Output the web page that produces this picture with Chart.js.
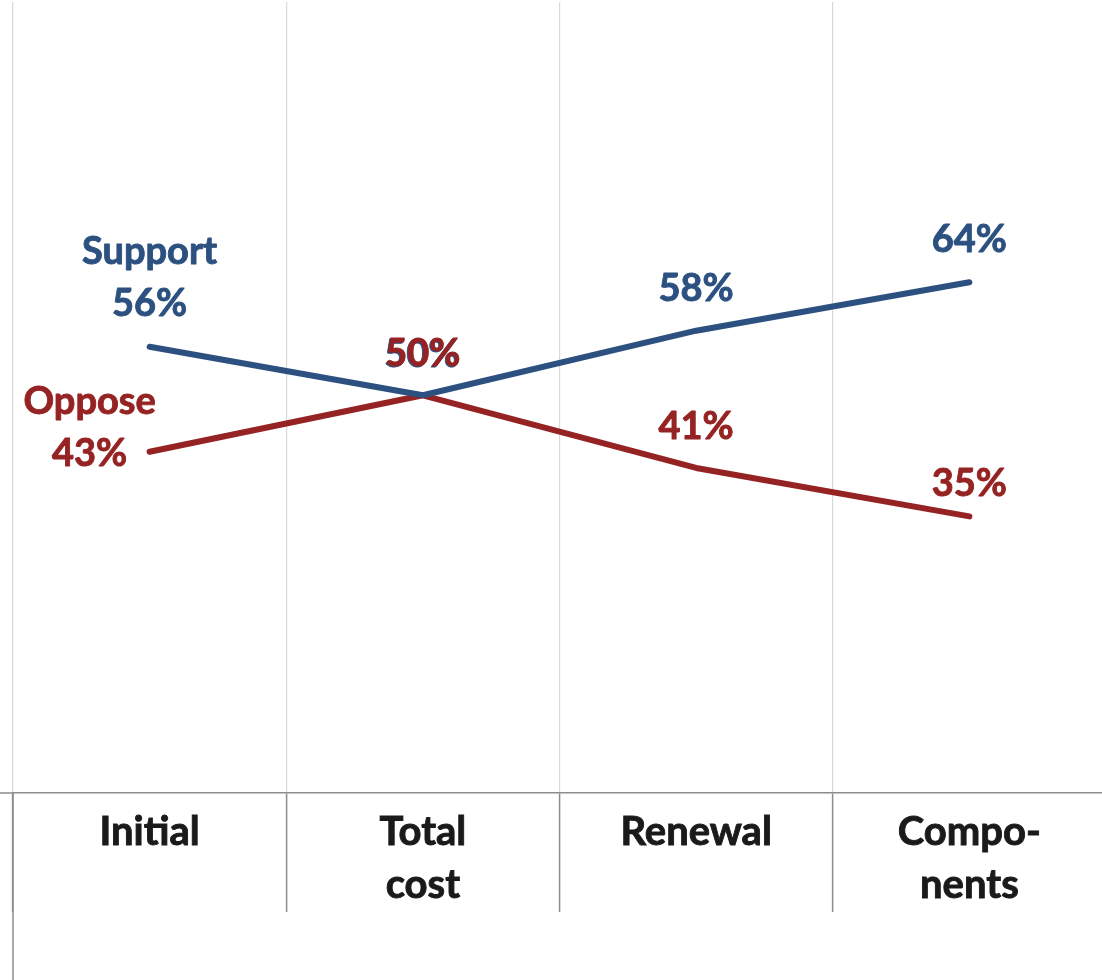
<!DOCTYPE html>
<html>
<head>
<meta charset="utf-8">
<script src="https://cdn.jsdelivr.net/npm/chart.js@4.4.1/dist/chart.umd.min.js"></script>
<style>
  html, body { margin: 0; padding: 0; background: #ffffff; overflow: hidden; }
  #wrap { width: 1102px; height: 980px; overflow: hidden; }
  canvas { display: block; }
</style>
</head>
<body>
<div id="wrap"><canvas id="chart" width="1110" height="980"></canvas></div>
<script>
// Survey results by question wording (percent)
const categories = [['Initial'], ['Total', 'cost'], ['Renewal'], ['Compo-', 'nents']];
const supportValues = [56, 50, 58, 64];
const opposeValues = [43, 50, 41, 35];
const seriesNames = ['Support', 'Oppose'];

const BLUE = '#2C5180';
const RED = '#962323';
const FONT = 'Lato, "Open Sans", sans-serif';

// Where each value label sits relative to its point: dx, dy of the last baseline
const labelPlacement = [
  [ {dx: 0, dy: -31, name: true}, {dx: 0, dy: -29, shadow: true}, {dx: 0, dy: -30}, {dx: 0, dy: -30} ],
  [ {dx: -60, dy: 14, name: true}, {dx: 0, dy: -29}, {dx: 0, dy: -29}, {dx: 0, dy: -20} ]
];

const valueLabels = {
  id: 'valueLabels',
  afterDatasetsDraw(chart) {
    const ctx = chart.ctx;
    ctx.save();
    ctx.font = 'bold 38px ' + FONT;
    ctx.textAlign = 'center';
    ctx.textBaseline = 'alphabetic';
    ctx.lineWidth = 0.9;
    ctx.lineJoin = 'round';
    // support labels first so the oppose labels sit on top
    chart.data.datasets.forEach((ds, di) => {
      const meta = chart.getDatasetMeta(di);
      meta.data.forEach((pt, i) => {
        const p = labelPlacement[di][i];
        const lines = [];
        if (p.name) lines.push(ds.label);
        lines.push(ds.data[i] + '%');
        let x = pt.x + p.dx;
        let y = pt.y + p.dy;
        if (p.shadow) { x -= 1; y += 1; }
        ctx.fillStyle = ds.borderColor;
        ctx.strokeStyle = ds.borderColor;
        for (let k = lines.length - 1; k >= 0; k--) {
          const ly = y - (lines.length - 1 - k) * 52;
          ctx.fillText(lines[k], x, ly);
          ctx.strokeText(lines[k], x, ly);
        }
      });
    });
    ctx.restore();
  }
};

// Axis line running to the canvas edge and the long left divider
const axisExtras = {
  id: 'axisExtras',
  afterDraw(chart) {
    const ctx = chart.ctx;
    const a = chart.chartArea;
    ctx.save();
    ctx.strokeStyle = '#8C8C8C';
    ctx.lineWidth = 1.5;
    ctx.beginPath();
    ctx.moveTo(0, a.bottom);
    ctx.lineTo(a.left, a.bottom);
    ctx.stroke();
    ctx.beginPath();
    ctx.moveTo(a.left, a.bottom);
    ctx.lineTo(a.left, chart.height);
    ctx.stroke();
    ctx.restore();
  }
};

new Chart(document.getElementById('chart'), {
  type: 'line',
  data: {
    labels: categories,
    datasets: [
      { label: seriesNames[0], data: supportValues, borderColor: BLUE, backgroundColor: BLUE },
      { label: seriesNames[1], data: opposeValues, borderColor: RED, backgroundColor: RED }
    ]
  },
  options: {
    responsive: false,
    animation: false,
    devicePixelRatio: 1,
    layout: { padding: { left: 13, right: 4, top: 2, bottom: 0 } },
    elements: {
      line: { borderWidth: 6, tension: 0, borderCapStyle: 'round', borderJoinStyle: 'round' },
      point: { radius: 0, hoverRadius: 0 }
    },
    plugins: {
      legend: { display: false },
      tooltip: { enabled: false }
    },
    scales: {
      x: {
        offset: true,
        grid: {
          offset: true,
          color: '#D9D9D9',
          lineWidth: 1.2,
          tickColor: '#8C8C8C',
          tickLength: 119,
          tickWidth: 1.5
        },
        border: { display: true, color: '#8C8C8C', width: 1.5 },
        ticks: {
          color: '#1A1A1A',
          font: { family: FONT, size: 40, weight: 'bold', lineHeight: 1.32 },
          textStrokeColor: '#1A1A1A',
          textStrokeWidth: 0.9,
          padding: -106,
          maxRotation: 0,
          autoSkip: false
        },
        afterFit(scale) { scale.height = 187; }
      },
      y: {
        display: false,
        min: 0.75,
        max: 98.7
      }
    }
  },
  plugins: [valueLabels, axisExtras]
});
</script>
</body>
</html>
